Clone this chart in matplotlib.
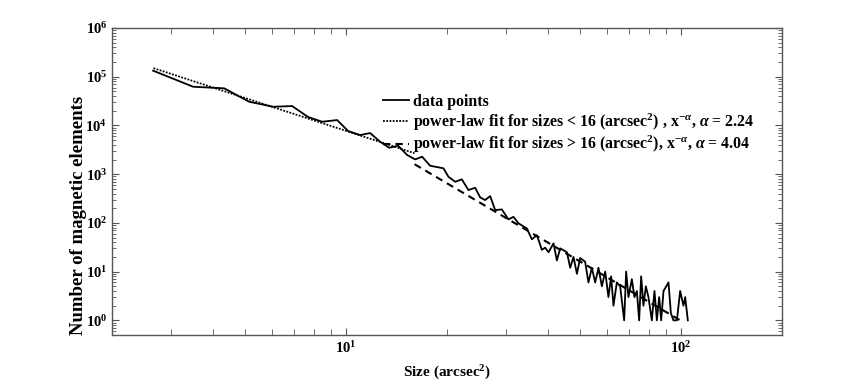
import numpy as np
import matplotlib
matplotlib.use("Agg")
import matplotlib.pyplot as plt

# ---------- data ----------
size = [2.654, 3.494, 4.324, 5.133, 6.055, 6.899, 7.702, 8.479, 9.40, 10.14,
        11.01, 11.79, 12.63, 13.44, 14.30, 15.21, 16.07, 16.86, 17.81, 19.52,
        20.20, 21.16, 22.15, 23.18, 24.27, 25.12, 25.99, 26.91, 27.85, 29.16,
        30.51, 31.58, 32.69, 34.63, 35.84, 37.10, 38.39, 39.27, 40.18, 41.59,
        42.56, 43.55, 45.60, 46.65, 47.72, 48.85, 49.94, 51.68, 52.88, 54.13,
        55.38, 56.65, 57.99, 59.32, 60.67, 61.80, 62.80, 64.27, 65.75, 67.59,
        68.52, 69.61, 71.25, 72.54, 73.75, 74.92, 75.96, 77.17, 78.45, 79.87,
        81.75, 83.24, 84.63, 85.97, 87.17, 88.57, 91.66, 93.18, 94.84, 97.10,
        99.31, 101.6, 102.8, 104.7]
count = [1.33e5, 6.23e4, 5.78e4, 3.07e4, 2.42e4, 2.50e4, 1.49e4, 1.19e4, 1.29e4, 7670,
         6350, 6980, 4630, 3480, 3830, 2470, 2010, 2280, 1490, 1320,
         884, 698, 782, 472, 526, 334, 294, 355, 183, 189,
         118, 133, 98, 77, 46, 56, 28, 31, 25, 38,
         17, 30, 25, 12, 20, 9, 19, 16, 6, 12,
         6, 12, 5, 10, 3, 8, 2, 6, 5, 1,
         10, 3, 7, 3, 4, 1, 8, 2, 5, 3,
         1, 4, 1, 3, 1, 4, 6, 1.4, 1, 1,
         4, 2, 3, 1]

# power-law fits
fit1_range = [2.66, 16.0]
fit1_amp, fit1_alpha = 1.5e5, 2.24     # value at 2.66
fit2_range = [16.0, 99.5]
fit2_amp, fit2_alpha = 1.6e3, 4.04     # value at 16

labels = ["data points",
          r"power-law fit for sizes < 16 (arcsec$^{2}$) , x$^{-\alpha}$, $\alpha$ = 2.24",
          r"power-law fit for sizes > 16 (arcsec$^{2}$), x$^{-\alpha}$, $\alpha$ = 4.04"]

# ---------- style ----------
plt.rcParams["font.family"] = ["Liberation Serif", "DejaVu Serif"]
plt.rcParams["font.weight"] = "bold"
plt.rcParams["mathtext.fontset"] = "custom"
plt.rcParams["mathtext.rm"] = "Liberation Serif:bold"
plt.rcParams["mathtext.bf"] = "Liberation Serif:bold"
plt.rcParams["mathtext.it"] = "Liberation Serif:italic"

fig = plt.figure(figsize=(8.64, 3.82), dpi=100)
ax = fig.add_axes([0.1296, 0.123, 0.7755, 0.8037])

ax.plot(size, count, color="black", lw=1.3, label=labels[0])
x1 = np.geomspace(*fit1_range, 50)
ax.plot(x1, fit1_amp * (x1 / fit1_range[0]) ** (-fit1_alpha),
        color="black", lw=1.3, ls=(0, (1, 0.8)), label=labels[1])
x2 = np.geomspace(*fit2_range, 50)
ax.plot(x2, fit2_amp * (x2 / fit2_range[0]) ** (-fit2_alpha),
        color="black", lw=1.5, ls=(0, (3.5, 2.5)), label=labels[2])

ax.set_xscale("log")
ax.set_yscale("log")
ax.set_xlim(2, 200)
ax.set_ylim(0.5, 1e6)
ax.set_yticks([10.0 ** k for k in range(0, 7)])

for s in ax.spines.values():
    s.set_color("#555555")
    s.set_linewidth(1.0)
ax.tick_params(which="both", direction="in", top=True, right=True,
               color="#555555", labelsize=10.5)
ax.tick_params(which="major", length=5)
ax.tick_params(which="minor", length=3)
ax.tick_params(axis="x", which="minor", length=4)

ax.set_xlabel(r"Size (arcsec$^{2}$)", fontsize=11, fontweight="bold", labelpad=6)
ax.set_ylabel("Number of magnetic elements", fontsize=13.5, fontweight="bold")
ax.yaxis.set_label_coords(-0.037, 0.39)

ax.legend(loc="upper left", bbox_to_anchor=(0.405, 0.785), frameon=False,
          handlelength=1.6, handletextpad=0.25,
          borderpad=0, borderaxespad=0, labelspacing=0.08,
          prop={"weight": "bold", "size": 11.4})

fig.savefig("out.png", dpi=100)
